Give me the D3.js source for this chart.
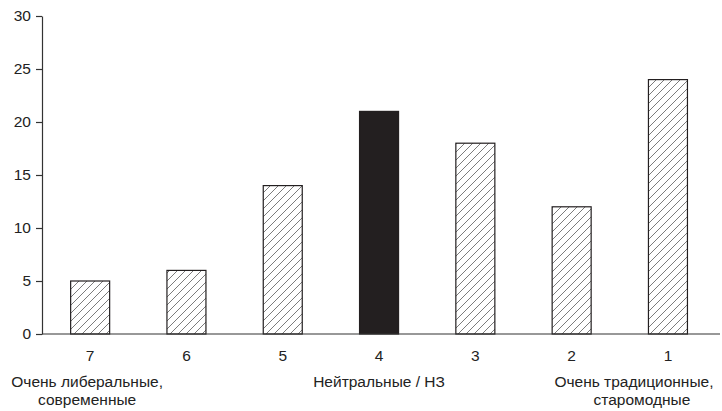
<!DOCTYPE html>
<html>
<head>
<meta charset="utf-8">
<script src="https://cdn.jsdelivr.net/npm/d3@7"></script>
<style>
  body { margin: 0; background: #fff; }
  text { font-family: "Liberation Sans", Arial, sans-serif; fill: #222; }
</style>
</head>
<body>
<div id="chart"></div>
<script>
// Categories (scale points) and values
const categories = ["7", "6", "5", "4", "3", "2", "1"];
const values = [5, 6, 14, 21, 18, 12, 24];
const solidCategory = "4";
const yTicks = [0, 5, 10, 15, 20, 25, 30];

// Descriptive labels under some of the categories
const groupAt = ["7", "4", "1"];
const groupLines = [
    ["Очень либеральные,", "современные"],
    ["Нейтральные / НЗ"],
    ["Очень традиционные,", "старомодные"]
];

const width = 722, height = 411;
const margin = { top: 16, right: 6, bottom: 77, left: 42 };

const svg = d3.select("#chart")
    .append("svg")
    .attr("width", width)
    .attr("height", height);

// Diagonal hatch pattern for the bars
const defs = svg.append("defs");
const pat = defs.append("pattern")
    .attr("id", "hatch")
    .attr("patternUnits", "userSpaceOnUse")
    .attr("width", 8)
    .attr("height", 8);
pat.append("path")
    .attr("d", "M-1,1 l2,-2 M0,8 l8,-8 M7,9 l2,-2")
    .attr("stroke", "#444")
    .attr("stroke-width", 0.7);

const x = d3.scaleBand()
    .domain(categories)
    .range([margin.left, margin.left + 96.3 * categories.length])
    .paddingInner(0.595)
    .paddingOuter(0.2975);

const y = d3.scaleLinear()
    .domain([0, 30])
    .range([height - margin.bottom, margin.top]);

// Y axis
const yAxis = svg.append("g")
    .attr("transform", `translate(${margin.left},0)`)
    .call(d3.axisLeft(y).tickValues(yTicks).tickSize(6).tickSizeOuter(0).tickPadding(5));
yAxis.select(".domain").attr("stroke", "#333").attr("stroke-width", 1.2);
yAxis.selectAll(".tick line").attr("stroke", "#333").attr("stroke-width", 1.2);
yAxis.selectAll("text").style("font-size", "15.5px").attr("fill", "#222");

// Bars
svg.selectAll("rect.bar")
    .data(categories)
    .enter()
    .append("rect")
    .attr("class", "bar")
    .attr("x", (d) => x(d))
    .attr("y", (d, i) => y(values[i]))
    .attr("width", x.bandwidth())
    .attr("height", (d, i) => y(0) - y(values[i]))
    .attr("fill", d => d === solidCategory ? "#231f20" : "url(#hatch)")
    .attr("stroke", "#231f20")
    .attr("stroke-width", 1.2);

// X axis line
svg.append("line")
    .attr("x1", margin.left)
    .attr("x2", width - 2)
    .attr("y1", y(0))
    .attr("y2", y(0))
    .attr("stroke", "#333")
    .attr("stroke-width", 1.2);

// Category labels
svg.selectAll("text.cat")
    .data(categories)
    .enter()
    .append("text")
    .attr("class", "cat")
    .attr("x", d => x(d) + x.bandwidth() / 2)
    .attr("y", y(0) + 27)
    .attr("text-anchor", "middle")
    .style("font-size", "15.5px")
    .text(d => d);

// Group descriptions
groupAt.forEach((cat, i) => {
    let cx = x(cat) + x.bandwidth() / 2;
    if (i === 0) cx -= 3;
    if (i === groupAt.length - 1) cx -= 34;
    const t = svg.append("text")
        .attr("x", cx)
        .attr("y", y(0) + 53)
        .attr("text-anchor", "middle")
        .style("font-size", "15.5px");
    groupLines[i].forEach((line, j) => {
        t.append("tspan")
            .attr("x", cx + (j > 0 && i === groupAt.length - 1 ? 8 : 0))
            .attr("dy", j === 0 ? 0 : 18)
            .text(line);
    });
});
</script>
</body>
</html>
